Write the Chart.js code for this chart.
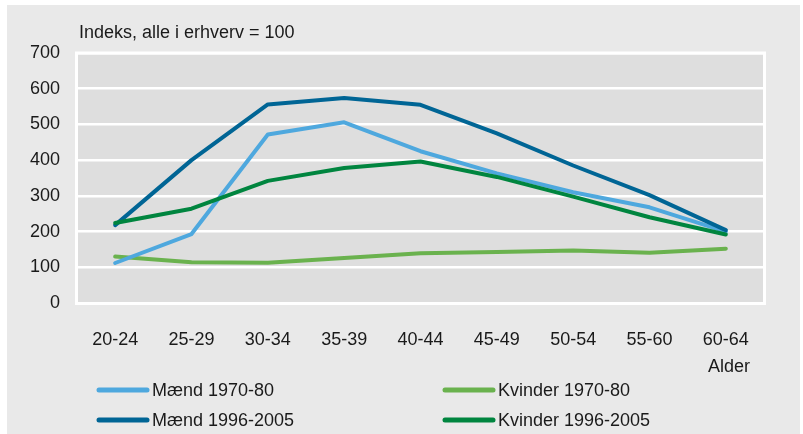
<!DOCTYPE html>
<html><head><meta charset="utf-8">
<script src="https://cdn.jsdelivr.net/npm/chart.js@4/dist/chart.umd.min.js"></script>
<style>html,body{margin:0;padding:0;background:#fff;}#wrap{width:803px;height:434px;position:relative}</style>
</head><body><div id="wrap"><canvas id="c" width="803" height="434"></canvas></div>
<script>
const categories = ['20-24','25-29','30-34','35-39','40-44','45-49','50-54','55-60','60-64'];
const maend7080 = [112, 193, 472, 506, 425, 363, 310, 268, 200];
const maend9605 = [218, 400, 556, 574, 555, 475, 385, 302, 204];
const kvinder7080 = [130, 114, 113, 126, 139, 143, 147, 141, 152];
const kvinder9605 = [224, 264, 342, 378, 396, 353, 298, 240, 192];
const yTicks = [0, 100, 200, 300, 400, 500, 600, 700];
const titleText = 'Indeks, alle i erhverv = 100';
const xAxisText = 'Alder';

const FONT = "'Liberation Sans', Arial, sans-serif";
const TXT = '#1a1a1a';

const bgPlugin = {
  id: 'bgPlugin',
  beforeDraw(chart) {
    const ctx = chart.ctx, a = chart.chartArea;
    ctx.save();
    ctx.fillStyle = '#fff';
    ctx.fillRect(0, 0, chart.width, chart.height);
    ctx.fillStyle = '#e9e9e9';
    ctx.fillRect(7, 5, 793, 429);
    ctx.fillStyle = '#dedede';
    ctx.fillRect(a.left, a.top, a.right - a.left, a.bottom - a.top);
    ctx.restore();
  },
  beforeDatasetsDraw(chart) {
    const ctx = chart.ctx, a = chart.chartArea;
    ctx.save();
    ctx.strokeStyle = '#ffffff';
    ctx.lineWidth = 3;
    ctx.strokeRect(a.left - 0.5, a.top, a.right - a.left + 1, a.bottom - a.top + 0.5);
    ctx.restore();
  },
  afterDraw(chart) {
    const ctx = chart.ctx;
    ctx.save();
    ctx.fillStyle = TXT;
    ctx.font = '18px ' + FONT;
    ctx.textBaseline = 'middle';
    ctx.textAlign = 'left';
    ctx.fillText(titleText, 79, 33);
    ctx.textAlign = 'right';
    ctx.fillText(xAxisText, 750, 367);
    // legend
    const slots = {
      'Mænd 1970-80': [97, 390],
      'Mænd 1996-2005': [97, 420],
      'Kvinder 1970-80': [443, 390],
      'Kvinder 1996-2005': [443, 420]
    };
    chart.data.datasets.forEach(ds => {
      const p = slots[ds.label];
      if (!p) return;
      ctx.strokeStyle = ds.borderColor;
      ctx.lineWidth = 5;
      ctx.lineCap = 'round';
      ctx.beginPath();
      ctx.moveTo(p[0] + 2, p[1]);
      ctx.lineTo(p[0] + 50, p[1]);
      ctx.stroke();
      ctx.textAlign = 'left';
      ctx.fillStyle = TXT;
      ctx.fillText(ds.label, p[0] + 55, p[1] + 1);
    });
    ctx.restore();
  }
};

const mk = (label, data, color) => ({
  label, data, borderColor: color, backgroundColor: color,
  borderWidth: 4, pointRadius: 0, tension: 0, fill: false,
  borderCapStyle: 'round', borderJoinStyle: 'round'
});

new Chart(document.getElementById('c'), {
  type: 'line',
  data: {
    labels: categories,
    datasets: [
      mk('Kvinder 1996-2005', kvinder9605, '#00853f'),
      mk('Mænd 1996-2005', maend9605, '#006595'),
      mk('Mænd 1970-80', maend7080, '#4ea8de'),
      mk('Kvinder 1970-80', kvinder7080, '#6ab24e')
    ]
  },
  options: {
    responsive: false,
    animation: false,
    devicePixelRatio: 1,
    layout: { padding: { left: 0, right: 39, top: 53, bottom: 0 } },
    plugins: { legend: { display: false }, title: { display: false }, tooltip: { enabled: false } },
    scales: {
      x: {
        offset: true,
        grid: { display: false, drawTicks: false },
        border: { display: false },
        ticks: { color: TXT, font: { family: FONT, size: 18 }, padding: 26, maxRotation: 0 },
        afterFit(s) { s.height = 131; }
      },
      y: {
        min: 0, max: 700,
        afterBuildTicks(s) { s.ticks = yTicks.map(v => ({ value: v })); },
        grid: { color: '#ffffff', lineWidth: 2.5, drawTicks: false },
        border: { display: false },
        ticks: { color: TXT, font: { family: FONT, size: 18 }, padding: 17 },
        afterFit(s) { s.width = 77; }
      }
    }
  },
  plugins: [bgPlugin]
});
</script>
</body></html>
